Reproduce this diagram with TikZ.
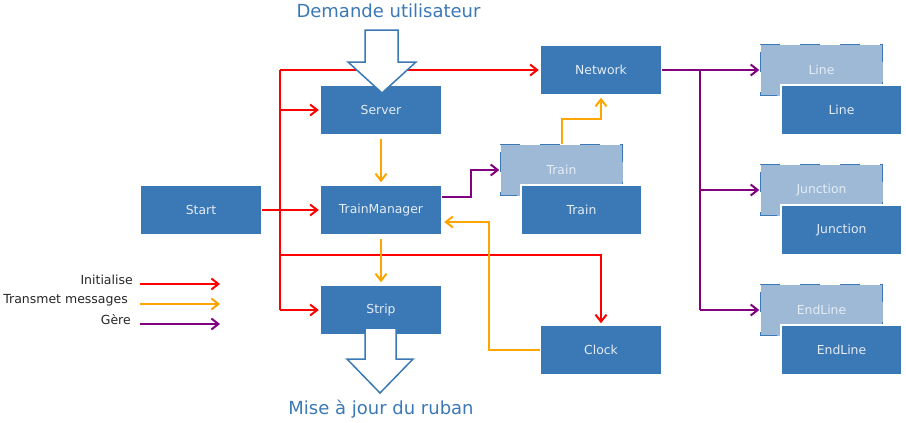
\documentclass[tikz,border=0pt]{standalone}
\usepackage{fontspec}
\setmainfont{DejaVu Sans}
\usetikzlibrary{arrows.meta}
\definecolor{boxblue}{HTML}{3A78B6}
\definecolor{lightblue}{HTML}{9DB9D5}
\definecolor{boxtext}{HTML}{E4ECF5}
\definecolor{orng}{HTML}{FFA500}
\definecolor{purp}{HTML}{800080}
\definecolor{rd}{HTML}{FF0000}
\tikzset{
  box/.style={fill=boxblue, draw=white, line width=1.5pt, minimum width=121pt, minimum height=50pt, inner sep=0pt, text=boxtext, font=\fontsize{12.4}{14}\selectfont},
  backbox/.style={fill=lightblue, draw=none, minimum width=122pt, minimum height=51pt, inner sep=0pt, text=boxtext, font=\fontsize{12.4}{14}\selectfont},
  dashborder/.style={draw=boxblue, line width=1.5pt, dash pattern=on 20pt off 20pt},
  tipp/.style={-{Straight Barb[length=7pt,width=11pt]}},
  redc/.style={draw=rd, line width=2pt},
  orc/.style={draw=orng, line width=2pt},
  puc/.style={draw=purp, line width=2pt},
  legtext/.style={anchor=east, inner sep=0pt, font=\fontsize{12.5}{14}\selectfont, text=black!85},
  bigarrow/.style={fill=white, draw=boxblue, line width=1.5pt, line join=miter},
  title/.style={text=boxblue, font=\fontsize{18}{20}\selectfont, inner sep=0pt}
}
\begin{document}
\begin{tikzpicture}[x=1pt,y=-1pt]
\useasboundingbox (0,0) rectangle (906,423);

% back boxes
\node[backbox] (trainb) at (561.5,170) {Train};
\node[backbox] (lineb) at (821.5,70) {Line};
\node[backbox] (junctionb) at (821.5,190) {Junction};
\node[backbox] (endlineb) at (821.5,310) {EndLine};
\foreach \b in {trainb,lineb,junctionb,endlineb}
  \draw[dashborder] (\b.north west) -- (\b.north east) -- (\b.south east) -- (\b.south west) -- cycle;

% boxes
\node[box] (server) at (381,110) {Server};
\node[box] (network) at (601,70) {Network};
\node[box] (start) at (201,210) {Start};
\node[box] (tm) at (381,210) {TrainManager};
\node[box] (train) at (581.5,210) {Train};
\node[box] (strip) at (381,310) {Strip};
\node[box] (clock) at (601,350) {Clock};
\node[box] (line) at (841.5,110) {Line};
\node[box] (junction) at (841.5,230) {Junction};
\node[box] (endline) at (841.5,350) {EndLine};

% red connectors
\coordinate (rt) at (280,70);
\coordinate (rb) at (280,310);
\coordinate (rc) at (280,255);
\draw[redc, tipp, shorten >=1pt] (start.east) -- (tm.west);
\draw[redc] (rt) -- (rb);
\draw[redc, tipp, shorten >=1pt] (rt) -- (network.west);
\draw[redc, tipp, shorten >=1pt] (rt|-server.west) -- (server.west);
\draw[redc, tipp, shorten >=1pt] (rb) -- (strip.west);
\draw[redc, tipp, shorten >=1pt] (rc) -| (clock.north);

% orange connectors
\draw[orc, tipp, shorten <=3pt, shorten >=2pt] (server.south) -- (tm.north);
\draw[orc, tipp, shorten <=3pt, shorten >=2pt] (tm.south) -- (strip.north);
\draw[orc, tipp, shorten >=2pt] (trainb.north) -- ++(0,-25) -| (network.south);
\draw[orc, tipp, shorten >=2pt] (clock.west) -- ++(-51,0) |- ([yshift=-12pt]tm.east);

% purple connectors
\coordinate (pt) at (700,70);
\coordinate (pb) at (700,310);
\draw[puc, tipp, shorten >=1pt] ([yshift=13pt]tm.east) -- ++(29,0) |- (trainb.west);
\draw[puc, tipp, shorten >=1pt] (network.east) -- (lineb.west);
\draw[puc] (pt) -- (pb);
\draw[puc, tipp, shorten >=1pt] (pt|-junctionb.west) -- (junctionb.west);
\draw[puc, tipp, shorten >=1pt] (pb) -- (endlineb.west);

% big arrows
\draw[bigarrow] (365,30) -- (398,30) -- (398,62) -- (416,62) -- (382,93) -- (348,62) -- (365,62) -- cycle;
\draw[bigarrow] (365,328) -- (365,359) -- (347,359) -- (380,393) -- (413,359) -- (396,359) -- (396,328) -- cycle;
\node[title] (demande) at (388.5,11) {Demande utilisateur};
\node[title] (mise) at (381,409) {Mise à jour du ruban};

% legend
\node[legtext] (linit) at (133,280) {Initialise};
\node[legtext] (ltrans) at (128,300) {Transmet messages};
\node[legtext] (lgere) at (131,320) {Gère};
\coordinate (a1s) at (140,284); \coordinate (a1e) at (220,284);
\coordinate (a2s) at (140,304); \coordinate (a2e) at (220,304);
\coordinate (a3s) at (140,324); \coordinate (a3e) at (220,324);
\draw[redc, tipp] (a1s) -- (a1e);
\draw[orc, tipp] (a2s) -- (a2e);
\draw[puc, tipp] (a3s) -- (a3e);
\end{tikzpicture}
\end{document}
